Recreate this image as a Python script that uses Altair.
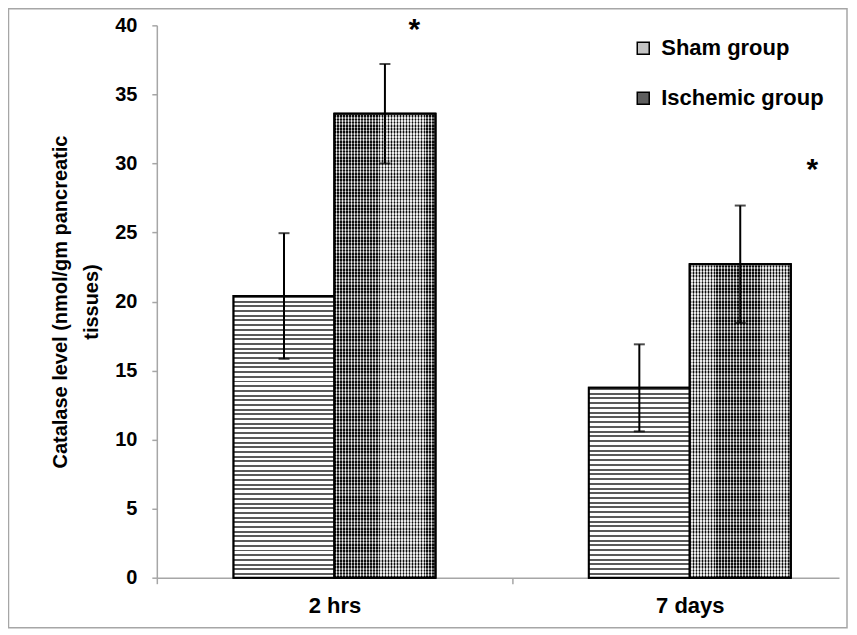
import altair as alt
import pandas as pd

# ---- data ----
times = ["2 hrs", "7 days"]
groups = ["Sham group", "Ischemic group"]
sham_mean = [20.4, 13.75]
sham_sd = [4.55, 3.15]
isch_mean = [33.6, 22.7]
isch_sd = [3.6, 4.25]
star_x = [0.725, 1.845]
star_y = [39.0, 28.9]
y_ticks = [0, 5, 10, 15, 20, 25, 30, 35, 40]

FONT = "Liberation Sans"
W, H = 683, 553
X_MAX = 1.92
BAR_W = 0.284
Y_MAX = 40
AXIS_GRAY = "#a6a6a6"

rows = []
for i, t in enumerate(times):
    for g, m, s in ((groups[0], sham_mean[i], sham_sd[i]),
                    (groups[1], isch_mean[i], isch_sd[i])):
        rows.append({"time": t, "idx": i, "group": g, "mean": m, "sd": s})
df = pd.DataFrame(rows)
stars = pd.DataFrame({"x": star_x, "y": star_y, "t": ["*", "*"]})


def stripes(n, dark, light, frac, vertical):
    stops = []
    for k in range(n):
        a, b, c = k / n, (k + frac) / n, (k + 1) / n
        stops += [alt.GradientStop(offset=a, color=dark),
                  alt.GradientStop(offset=b, color=dark),
                  alt.GradientStop(offset=b, color=light),
                  alt.GradientStop(offset=c, color=light)]
    if vertical:
        return alt.LinearGradient(gradient="linear", stops=stops, x1=0, y1=0, x2=1, y2=0)
    return alt.LinearGradient(gradient="linear", stops=stops, x1=0, y1=0, x2=0, y2=1)


x_scale = alt.Scale(domain=[0, X_MAX], nice=False, zero=False)
y_scale = alt.Scale(domain=[0, Y_MAX], nice=False)

label_expr = f"datum.value == 0 ? '{times[0]}' : '{times[1]}'"
px_per_unit = W / X_MAX

base = alt.Chart(df).transform_calculate(
    x0=f"datum.idx + 0.5 - (datum.group == '{groups[0]}' ? {BAR_W} : 0)",
    x1=f"datum.idx + 0.5 + (datum.group == '{groups[1]}' ? {BAR_W} : 0)",
    xc=f"datum.idx + 0.5 + (datum.group == '{groups[0]}' ? -1 : 1) * {BAR_W / 2}",
    lo="datum.mean - datum.sd",
    hi="datum.mean + datum.sd",
)

x_enc = alt.X("x0:Q", scale=x_scale, axis=alt.Axis(
    values=[0, 1], labelExpr=label_expr, labelOffset=0.5 * px_per_unit,
    labelFlush=False, title=None, grid=False, tickSize=6,
    labelFontSize=22, labelPadding=12))
y_enc = alt.Y("mean:Q", scale=y_scale, axis=alt.Axis(
    values=y_ticks, grid=False, tickSize=5, labelFontSize=20, labelPadding=15,
    title=["Catalase level (nmol/gm pancreatic", "tissues)"],
    titleFontSize=20, titleLineHeight=31, titlePadding=13))

bars = base.mark_bar(stroke="black", strokeWidth=2).encode(
    x=x_enc, x2="x1:Q", y=y_enc, y2=alt.datum(0),
    color=alt.Color("group:N", scale=alt.Scale(domain=groups, range=["#c4c4c4", "#5e5e5e"]),
                    legend=alt.Legend(orient="none", legendX=476, legendY=12, title=None,
                                      labelFontSize=22, labelFont=FONT, labelFontWeight="bold",
                                      labelLimit=0,
                                      symbolType="square", symbolSize=144,
                                      symbolStrokeColor="black", symbolStrokeWidth=1.5,
                                      rowPadding=28, labelOffset=7, padding=0)),
)

overlays = []
for i in range(len(times)):
    for g, m in ((groups[0], sham_mean[i]), (groups[1], isch_mean[i])):
        sel = base.transform_filter(f"datum.group == '{g}' && datum.idx == {i}")
        if g == groups[0]:
            n = max(1, round(m * H / Y_MAX / 4.7))
            grad = stripes(n, "#5a5a5a", "#ffffff", 0.42, vertical=False)
            overlays.append(sel.mark_bar(fill=grad, stroke="black", strokeWidth=2)
                            .encode(x="x0:Q", x2="x1:Q", y="mean:Q", y2=alt.datum(0)))
        else:
            grad_v = stripes(34, "#111111", "#e0e0e0", 0.5, vertical=True)
            n = max(1, round(m * H / Y_MAX / 3.2))
            grad_h = stripes(n, "rgba(255,255,255,0.35)", "rgba(0,0,0,0.25)", 0.5, vertical=False)
            overlays.append(sel.mark_bar(fill=grad_v, stroke="black", strokeWidth=2)
                            .encode(x="x0:Q", x2="x1:Q", y="mean:Q", y2=alt.datum(0)))
            overlays.append(sel.mark_bar(fill=grad_h, stroke="black", strokeWidth=2)
                            .encode(x="x0:Q", x2="x1:Q", y="mean:Q", y2=alt.datum(0)))

err = base.mark_rule(color="black", strokeWidth=2).encode(x="xc:Q", y="lo:Q", y2="hi:Q")
cap_hi = base.mark_tick(orient="horizontal", color="black", thickness=2, size=11).encode(x="xc:Q", y="hi:Q")
cap_lo = base.mark_tick(orient="horizontal", color="black", thickness=2, size=11).encode(x="xc:Q", y="lo:Q")

star_layer = alt.Chart(stars).mark_text(fontSize=30, fontWeight="bold", font=FONT,
                                        color="black", baseline="alphabetic").encode(
    x="x:Q", y="y:Q", text="t:N")

frame = alt.Chart(pd.DataFrame({"a": [0]})).mark_rect(
    filled=False, stroke=AXIS_GRAY, strokeWidth=1.5).encode(
    x=alt.value(-148.5), x2=alt.value(691), y=alt.value(-16.5), y2=alt.value(603))

chart = alt.layer(frame, bars, *overlays, err, cap_hi, cap_lo, star_layer).properties(
    width=W, height=H, autosize=alt.AutoSizeParams(type="none"),
    padding={"left": 149, "top": 17, "right": 10, "bottom": 55},
).configure_view(stroke=None).configure_axis(
    domainColor=AXIS_GRAY, domainWidth=1.5, tickColor=AXIS_GRAY, tickWidth=1.5,
    labelFont=FONT, labelFontWeight="bold", labelColor="black",
    titleFont=FONT, titleFontWeight="bold", titleColor="black",
)

chart.save("out.html", embed_options={"renderer": "svg", "actions": False})
